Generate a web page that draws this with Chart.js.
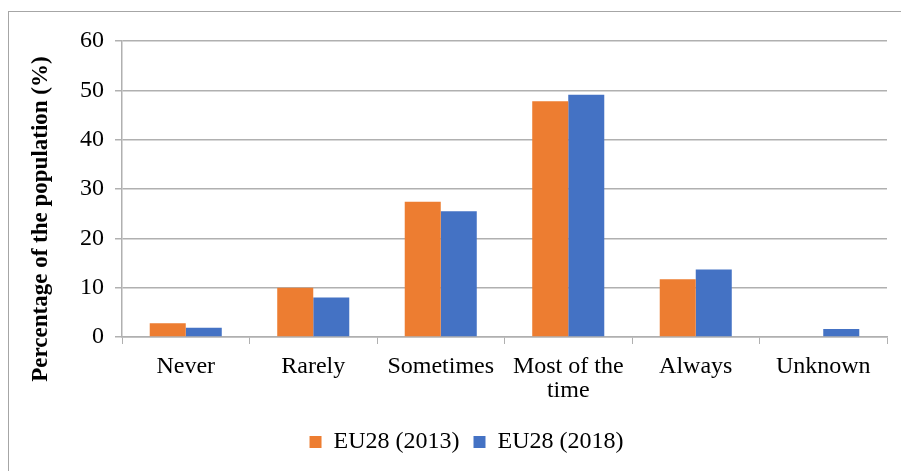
<!DOCTYPE html>
<html lang="en">
<head>
    <meta charset="UTF-8">
    <title>Frequency of feeling happy</title>
    <script src="https://cdn.jsdelivr.net/npm/chart.js"></script>
    <style>
        body { margin: 0; background: #fff; overflow: hidden; }
        #wrap { position: relative; width: 901px; height: 471px; overflow: hidden; }
        #frame { position: absolute; left: 8px; top: 11px; width: 1000px; height: 600px;
                 border-left: 1px solid #a6a6a6; border-top: 1px solid #a6a6a6; }
        #caption { position: absolute; left: 4px; top: -23px; white-space: nowrap;
                   font: bold 20px "Liberation Serif", serif; color: #000; }
        #myChart { position: absolute; left: 0; top: 0; }
    </style>
</head>
<body>
<div id="wrap">
    <div id="caption">Figure 4: Frequency of feeling happy in the past four weeks, EU28, 2013 and 2018</div>
    <div id="frame"></div>
    <canvas id="myChart" width="901" height="471"></canvas>
</div>

<script>
    // data
    const categories = ['Never', 'Rarely', 'Sometimes', ['Most of the', 'time'], 'Always', 'Unknown'];
    const eu2013 = [2.8, 10.0, 27.4, 47.8, 11.7, null];
    const eu2018 = [1.9, 8.0, 25.5, 49.1, 13.7, 1.6];
    const yTicks = [0, 10, 20, 30, 40, 50, 60];
    const yTitle = 'Percentage of the population (%)';

    const serif = '"Liberation Serif", "Times New Roman", serif';
    const gridGray = '#b0b0b0';

    // the y title in the reference sits lower than the plot centre, so draw it by hand
    const yTitlePlugin = {
        id: 'yTitle',
        afterDraw(chart) {
            const c = chart.ctx;
            c.save();
            c.translate(41, 219);
            c.rotate(-Math.PI / 2);
            c.font = 'bold 23px ' + serif;
            c.fillStyle = '#000';
            c.textAlign = 'center';
            c.textBaseline = 'middle';
            c.fillText(yTitle, 0, 0);
            c.restore();
        }
    };

    // legend in the reference is centred a bit right of the plot
    const legendShift = {
        id: 'legendShift',
        afterLayout(chart) {
            chart.legend.left += 23;
            chart.legend.right += 23;
        }
    };

    const ctx = document.getElementById('myChart').getContext('2d');
    const myChart = new Chart(ctx, {
        type: 'bar',
        data: {
            labels: categories,
            datasets: [{
                label: 'EU28 (2013)',
                data: eu2013,
                backgroundColor: '#ED7D31',
                categoryPercentage: 0.565,
                barPercentage: 1.0
            }, {
                label: 'EU28 (2018)',
                data: eu2018,
                backgroundColor: '#4472C4',
                categoryPercentage: 0.565,
                barPercentage: 1.0
            }]
        },
        plugins: [yTitlePlugin, legendShift],
        options: {
            responsive: false,
            animation: false,
            devicePixelRatio: 1,
            layout: { padding: { left: 0, right: 14, top: 41, bottom: 7 } },
            plugins: {
                tooltip: { enabled: false },
                legend: {
                    position: 'bottom',
                    labels: {
                        font: { family: serif, size: 24 },
                        color: '#000',
                        boxWidth: 12,
                        boxHeight: 12,
                        padding: 14
                    }
                }
            },
            scales: {
                x: {
                    grid: {
                        offset: true,
                        drawOnChartArea: false,
                        drawTicks: true,
                        tickLength: 7,
                        color: gridGray
                    },
                    border: { color: gridGray, width: 1.5 },
                    ticks: {
                        font: { family: serif, size: 24, lineHeight: 1.0 },
                        color: '#000',
                        padding: 11,
                        maxRotation: 0,
                        autoSkip: false
                    },
                    afterFit: function (scale) { scale.height = 79; }
                },
                y: {
                    min: 0,
                    max: 60,
                    afterBuildTicks: function (scale) {
                        scale.ticks = yTicks.map(v => ({ value: v }));
                    },
                    grid: {
                        color: gridGray,
                        lineWidth: 1.5,
                        tickLength: 7
                    },
                    border: { color: gridGray, width: 1.5 },
                    ticks: {
                        font: { family: serif, size: 24 },
                        color: '#000',
                        padding: 11
                    },
                    afterFit: function (scale) { scale.width = 122; }
                }
            }
        }
    });
</script>
</body>
</html>
